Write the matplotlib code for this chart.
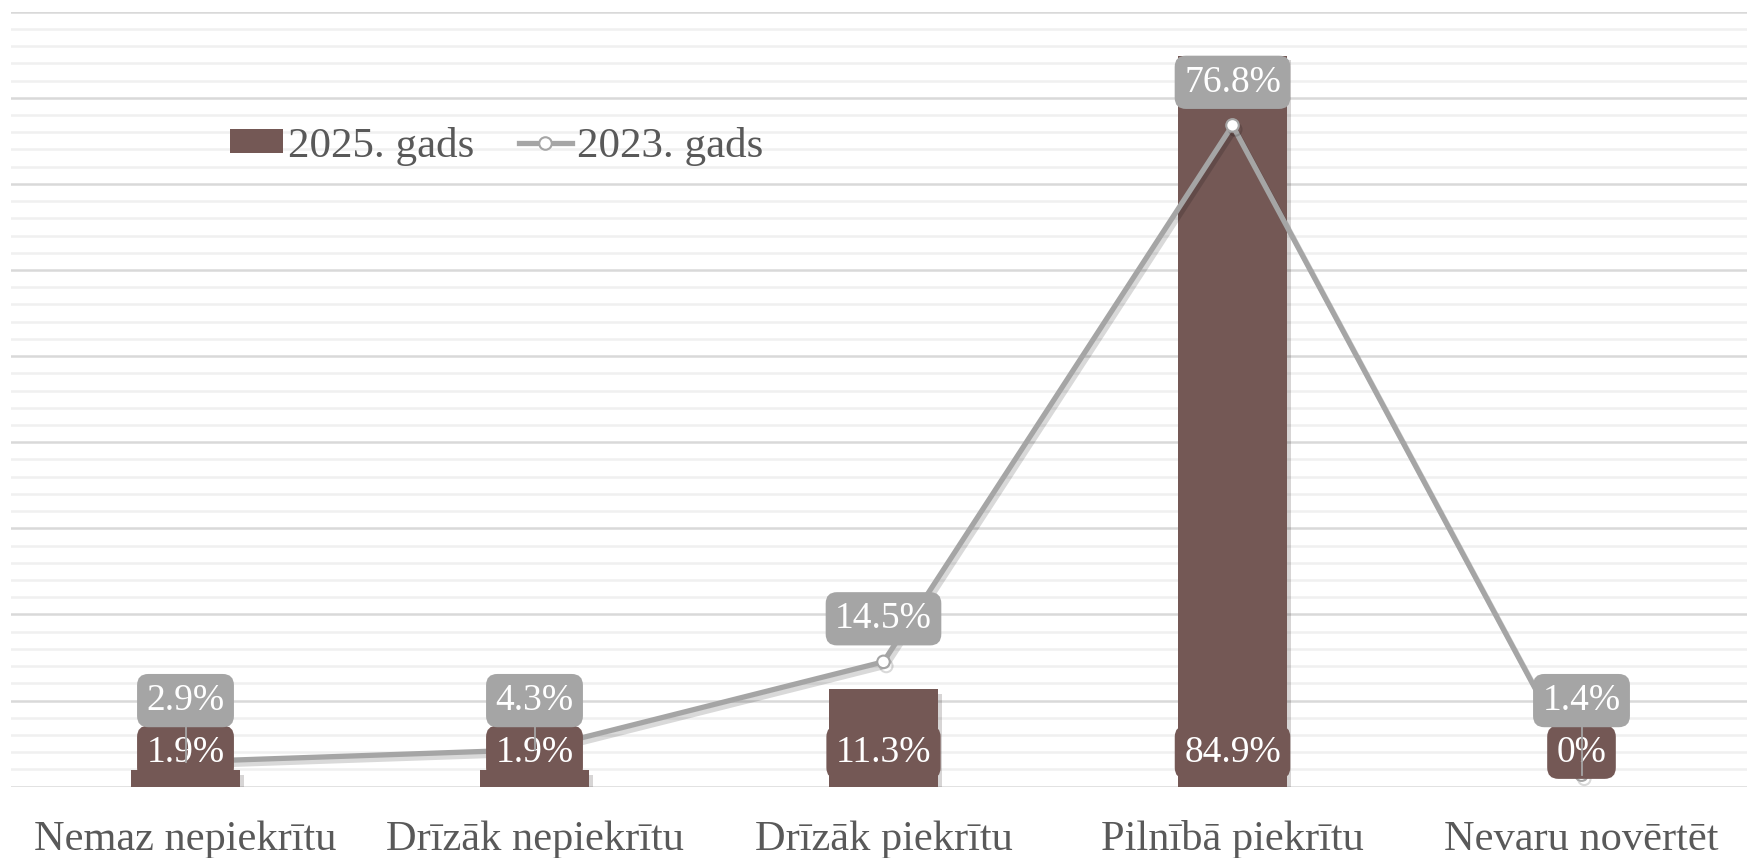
import matplotlib
matplotlib.use("Agg")
import matplotlib.pyplot as plt
from matplotlib.ticker import MultipleLocator
import matplotlib.patheffects as pe
from matplotlib.patches import Patch
from matplotlib.lines import Line2D

categories = ["Nemaz nepiekrītu", "Drīzāk nepiekrītu", "Drīzāk piekrītu",
              "Pilnībā piekrītu", "Nevaru novērtēt"]
values_2025 = [1.9, 1.9, 11.3, 84.9, 0]
values_2023 = [2.9, 4.3, 14.5, 76.8, 1.4]
labels_2025 = ["1.9%", "1.9%", "11.3%", "84.9%", "0%"]
labels_2023 = ["2.9%", "4.3%", "14.5%", "76.8%", "1.4%"]
series_names = ["2025. gads", "2023. gads"]

BAR = "#745855"
LINE = "#a5a5a5"
TXT = "#595959"

plt.rcParams['font.family'] = ['Liberation Serif', 'DejaVu Serif']

W, H = 1747, 858
fig = plt.figure(figsize=(W / 100, H / 100), dpi=100)
ax = fig.add_axes([11 / W, 1 - 786.7 / H, 1745 / W, (786.7 - 11.7) / H])
x = list(range(len(categories)))
ax.set_xlim(-0.5, len(categories) - 0.5)
ax.set_ylim(0, 90)
ax.yaxis.set_major_locator(MultipleLocator(10))
ax.yaxis.set_minor_locator(MultipleLocator(2))
ax.grid(axis='y', which='minor', color='#f0f0f0', lw=1.8)
ax.grid(axis='y', which='major', color='#d9d9d9', lw=1.8)
ax.grid(axis='x', visible=False)
ax.set_axisbelow(True)
for s in ax.spines.values():
    s.set_visible(False)
ax.tick_params(axis='y', which='both', left=False, labelleft=False)
ax.set_xticks(x, categories)
ax.tick_params(axis='x', length=0, labelsize=30.5, labelcolor=TXT, pad=24)

bars = ax.bar(x, values_2025, width=0.312, color=BAR, zorder=2,
              path_effects=[pe.SimplePatchShadow(offset=(3, -3), alpha=0.18), pe.Normal()])

ax.plot(x, values_2023, color=LINE, lw=3.8, marker='o', ms=9, mfc='white',
        mec=LINE, mew=1.5, zorder=3, solid_capstyle='round',
        path_effects=[pe.SimpleLineShadow(offset=(2, -3), shadow_color='k', alpha=0.15), pe.Normal()])

for i, (v, lab) in enumerate(zip(values_2025, labels_2025)):
    ax.text(i, 4.0, lab, ha='center', va='center', fontsize=27, color='white',
            zorder=5, bbox=dict(boxstyle='round,pad=0.25,rounding_size=0.3',
                                fc=BAR, ec='none'))

for i, (v, lab) in enumerate(zip(values_2023, labels_2023)):
    ly = max(v + 5, 10.0)
    if ly > v + 5.01:
        ax.plot([i, i], [ly, v], color=LINE, lw=1.3, zorder=6)
    ax.text(i, ly, lab, ha='center', va='center', fontsize=27, color='white',
            zorder=7, bbox=dict(boxstyle='round,pad=0.25,rounding_size=0.3',
                                fc=LINE, ec='none'))

handles = [Patch(fc=BAR, ec='none'),
           Line2D([], [], color=LINE, lw=3.8, marker='o', ms=9, mfc='white', mec=LINE, mew=1.5)]
fig.legend(handles, series_names, loc='center left',
           bbox_to_anchor=(230 / W, 1 - 146 / H), ncol=2, frameon=False,
           fontsize=31, labelcolor=TXT, handlelength=1.22, handleheight=0.5,
           handletextpad=0.12, columnspacing=1.05, borderpad=0, borderaxespad=0)

fig.savefig('out.png', dpi=100)
